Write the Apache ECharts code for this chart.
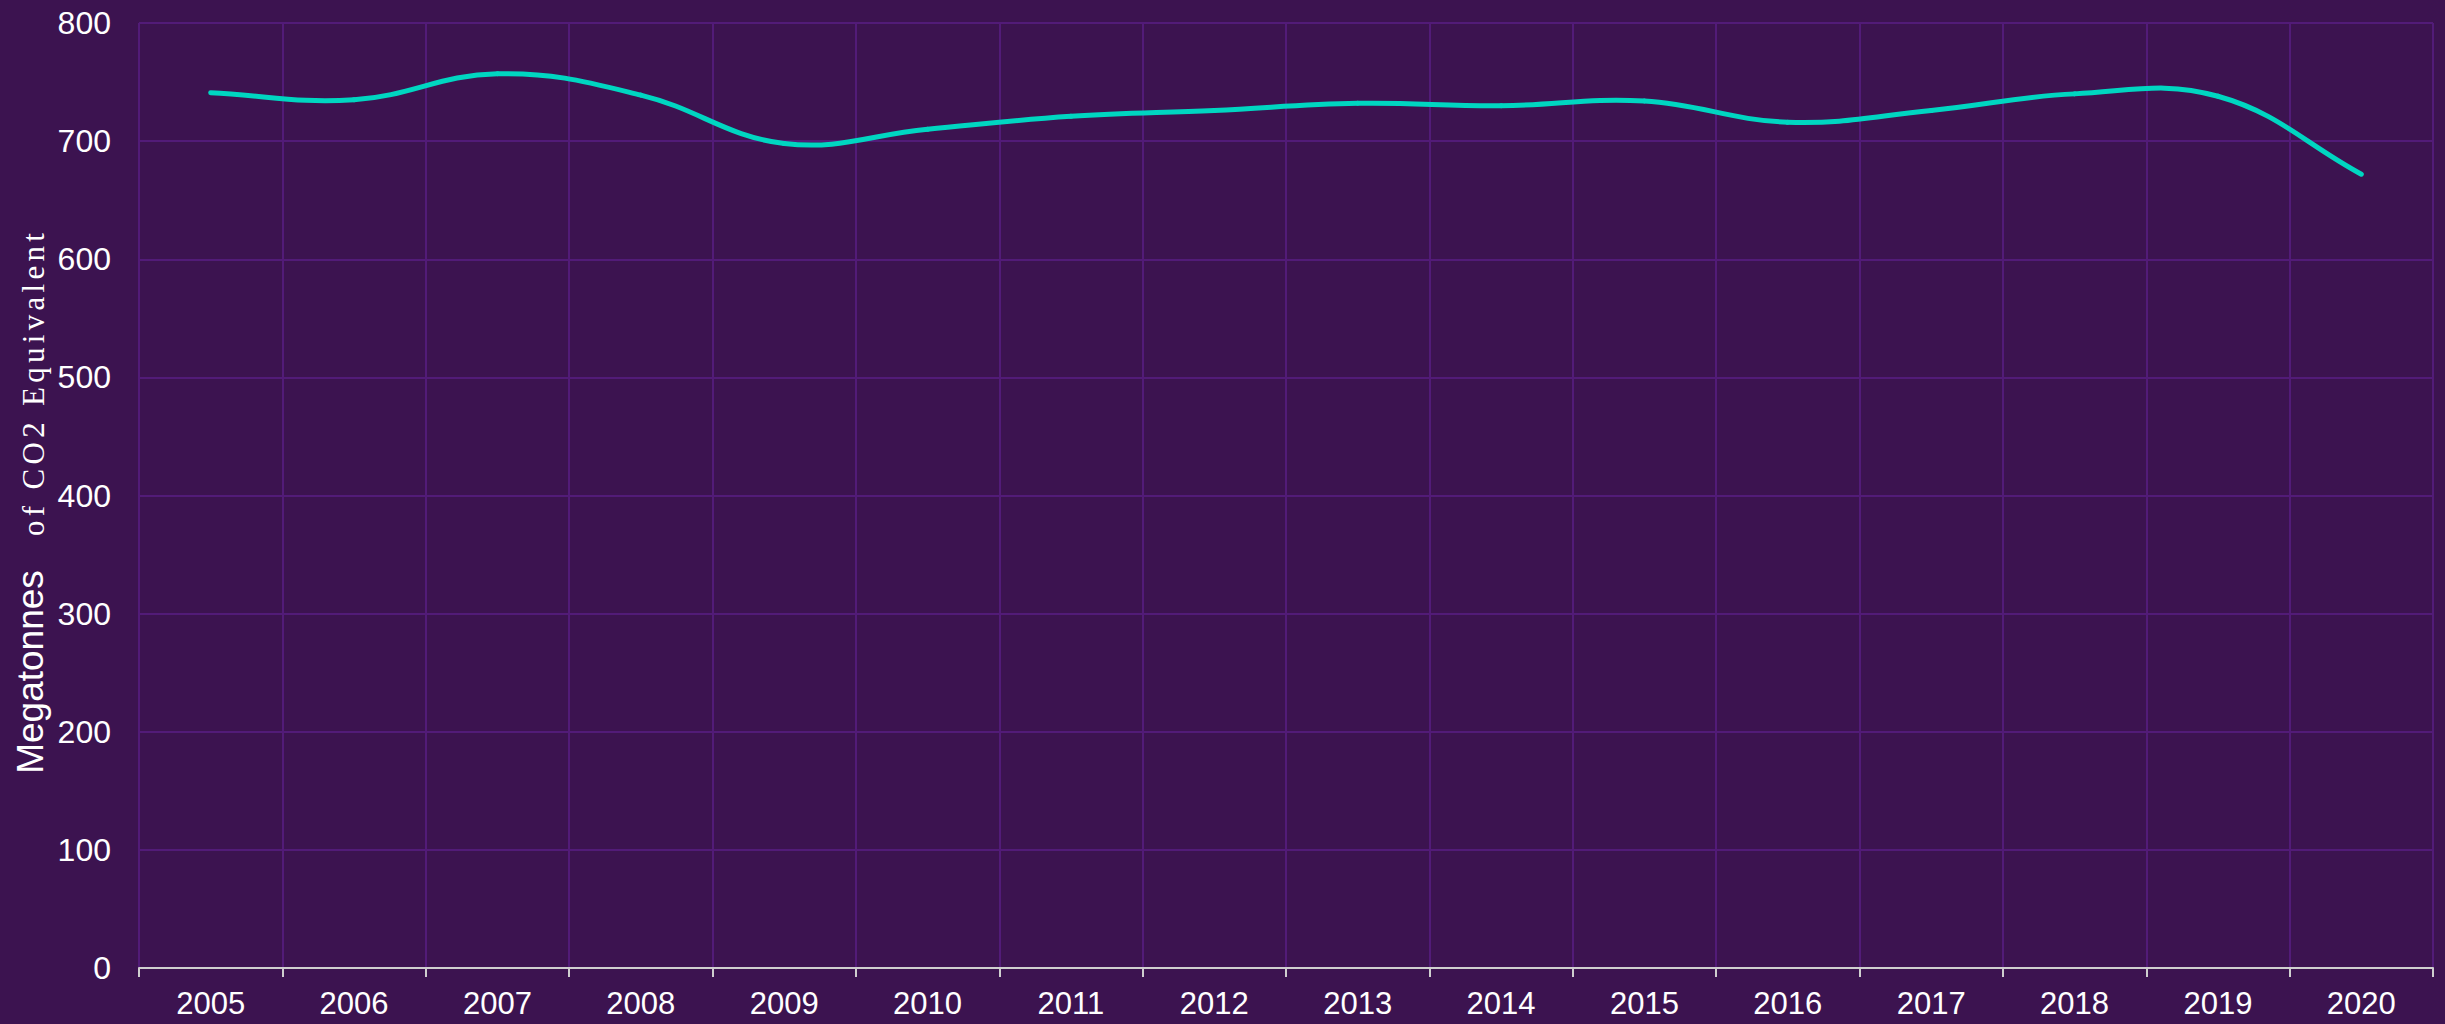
<!DOCTYPE html>
<html>
<head>
<meta charset="utf-8">
<script src="https://cdn.jsdelivr.net/npm/echarts@6/dist/echarts.min.js"></script>
<style>
  html, body { margin: 0; padding: 0; background: #3c1350; }
  #chart { width: 2445px; height: 1024px; }
</style>
</head>
<body>
<div id="chart"></div>
<script>
// Annual greenhouse gas emissions, Mt CO2 eq.
const years = ['2005', '2006', '2007', '2008', '2009', '2010', '2011', '2012',
               '2013', '2014', '2015', '2016', '2017', '2018', '2019', '2020'];
const emissions = [741, 735, 757, 739, 698, 710, 721, 726,
                   732, 730, 734, 716, 726, 740, 738, 672];
const yTicks = { min: 0, max: 800, interval: 100 };
const yTitleMain = 'Megatonnes';
const yTitleUnit = 'of CO2 Equivalent';

const unitSpacing = 4.3; // px between letters of the unit part of the title
const tension = 0.4;     // spline tension of the emissions curve
const lineColor = '#00d6c1';

const chart = echarts.init(document.getElementById('chart'), null, { renderer: 'svg' });

// One cubic segment per year: from point i to point i+1, with control
// points taken from the neighbouring points (cardinal spline).
function renderSegment(params, api) {
  const i = params.dataIndex;
  if (i >= emissions.length - 1) return null;
  const pt = function (k) {
    const j = Math.max(0, Math.min(emissions.length - 1, k));
    return api.coord([j, emissions[j]]);
  };
  const controls = function (prev, cur, next) {
    const d01 = Math.hypot(cur[0] - prev[0], cur[1] - prev[1]);
    const d12 = Math.hypot(next[0] - cur[0], next[1] - cur[1]);
    const tot = d01 + d12 || 1;
    const fa = tension * d01 / tot;
    const fb = tension * d12 / tot;
    return {
      prev: [cur[0] - fa * (next[0] - prev[0]), cur[1] - fa * (next[1] - prev[1])],
      next: [cur[0] + fb * (next[0] - prev[0]), cur[1] + fb * (next[1] - prev[1])]
    };
  };
  const p0 = pt(i - 1), p1 = pt(i), p2 = pt(i + 1), p3 = pt(i + 2);
  const c1 = controls(p0, p1, p2).next;
  const c2 = controls(p1, p2, p3).prev;
  return {
    type: 'bezierCurve',
    shape: { x1: p1[0], y1: p1[1], x2: p2[0], y2: p2[1],
             cpx1: c1[0], cpy1: c1[1], cpx2: c2[0], cpy2: c2[1] },
    style: { stroke: lineColor, lineWidth: 5, fill: null, lineCap: 'round' }
  };
}

chart.setOption({
  backgroundColor: '#3c1350',
  animation: false,
  grid: { left: 139, right: 12, top: 23, bottom: 56 },
  xAxis: {
    type: 'category',
    data: years,
    boundaryGap: true,
    axisLine: { show: true, lineStyle: { color: '#cfcfcf', width: 2 } },
    axisTick: { show: true, length: 9, lineStyle: { color: '#cfcfcf', width: 2 } },
    axisLabel: { color: '#ffffff', fontSize: 31, fontFamily: 'Liberation Sans, Arial, sans-serif', margin: 20 },
    splitLine: { show: true, lineStyle: { color: '#521b78', width: 2 } }
  },
  yAxis: {
    type: 'value',
    min: yTicks.min,
    max: yTicks.max,
    interval: yTicks.interval,
    axisLine: { show: false },
    axisTick: { show: false },
    axisLabel: { color: '#ffffff', fontSize: 32, fontFamily: 'Liberation Sans, Arial, sans-serif', margin: 28 },
    splitLine: { show: true, lineStyle: { color: '#521b78', width: 2 } }
  },
  graphic: [
    {
      type: 'text', x: 30, y: 672, rotation: Math.PI / 2,
      style: {
        text: yTitleMain, fill: '#ffffff',
        font: '37px "Liberation Sans", Arial, sans-serif',
        align: 'center', verticalAlign: 'middle',
        textAlign: 'center', textVerticalAlign: 'middle'
      }
    },
    {
      type: 'text', x: 33, y: 536, rotation: Math.PI / 2,
      style: {
        text: yTitleUnit, fill: '#ffffff',
        font: '31px "Liberation Serif", "Times New Roman", serif',
        align: 'left', verticalAlign: 'middle',
        textAlign: 'left', textVerticalAlign: 'middle'
      }
    }
  ],
  series: [{
    type: 'custom',
    renderItem: renderSegment,
    data: emissions.map(function (v, i) { return [i, v]; }),
    encode: { x: 0, y: 1 }
  }]
});

// Spread out the letters of the unit part of the axis title.
function spaceUnitTitle() {
  document.querySelectorAll('#chart svg text').forEach(function (t) {
    if (t.textContent === yTitleUnit) {
      t.setAttribute('letter-spacing', unitSpacing);
      t.style.letterSpacing = unitSpacing + 'px';
    }
  });
}
spaceUnitTitle();
chart.on('finished', spaceUnitTitle);
</script>
</body>
</html>
